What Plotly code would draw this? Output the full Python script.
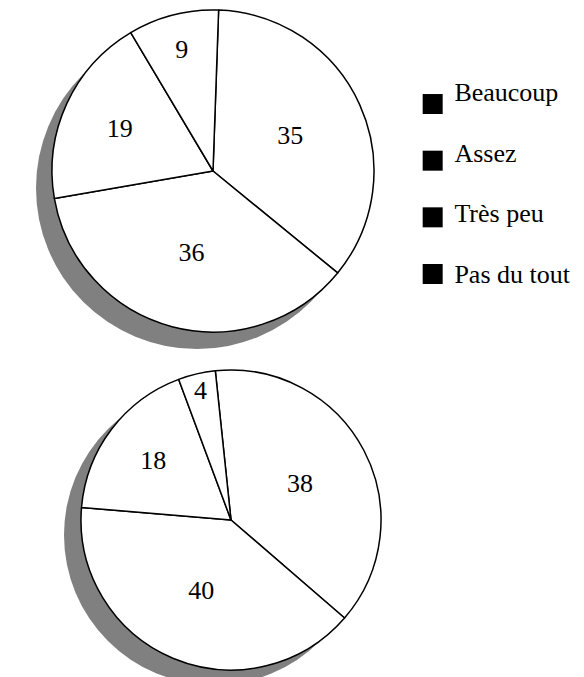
import plotly.graph_objects as go


# =========================================================
# ДАННЫЕ
# =========================================================

categories = ["Beaucoup", "Assez", "Très peu", "Pas du tout"]
values_top = [35, 36, 19, 9]
values_bottom = [38, 40, 18, 4]

W, H = 584, 677
FONT = "Liberation Serif"
SHADOW = "#808080"


def box(cx, cy, d):
    """
    Домен круга по центру и диаметру в пикселях.
    """
    return dict(
        x=[(cx - d / 2) / W, (cx + d / 2) / W],
        y=[1 - (cy + d / 2) / H, 1 - (cy - d / 2) / H]
    )


def shadow_pie(domain):
    return go.Pie(
        values=[1],
        domain=domain,
        marker=dict(colors=[SHADOW], line=dict(width=0)),
        textinfo="none",
        hoverinfo="skip",
        showlegend=False,
        sort=False
    )


def main_pie(values, domain, rotation):
    return go.Pie(
        labels=categories,
        values=values,
        domain=domain,
        rotation=rotation,
        direction="clockwise",
        sort=False,
        marker=dict(
            colors=["white"] * len(values),
            line=dict(color="black", width=1.5)
        ),
        textinfo="value",
        textposition="inside",
        insidetextorientation="horizontal",
        textfont=dict(family=FONT, size=26, color="black"),
        showlegend=False
    )


fig = go.Figure()

# верхний круг
fig.add_trace(shadow_pie(box(189, 180, 322)))
fig.add_trace(main_pie(values_top, box(205, 163, 322), 2))

# нижний круг
fig.add_trace(shadow_pie(box(206, 527, 300)))
fig.add_trace(main_pie(values_bottom, box(223, 512, 300), -6))

# легенда: чёрные квадраты и подписи
fig.add_trace(
    go.Scatter(
        x=[1.2] * len(categories),
        y=categories,
        mode="markers",
        marker=dict(symbol="square", size=20, color="black"),
        cliponaxis=False,
        hoverinfo="skip",
        showlegend=False
    )
)

fig.add_trace(
    go.Scatter(
        x=[2.4] * len(categories),
        y=categories,
        yaxis="y2",
        mode="text",
        text=categories,
        textposition="middle right",
        textfont=dict(family=FONT, size=26, color="black"),
        cliponaxis=False,
        hoverinfo="skip",
        showlegend=False
    )
)

fig.update_layout(
    width=W,
    height=H,
    margin=dict(l=0, r=0, t=0, b=0),
    paper_bgcolor="white",
    plot_bgcolor="rgba(0,0,0,0)",
    uniformtext=dict(minsize=26, mode="show"),
    xaxis=dict(
        domain=[0.69, 1.0],
        range=[0, 10],
        visible=False
    ),
    yaxis=dict(
        domain=[1 - 294.3 / H, 1 - 67.7 / H],
        type="category",
        categoryorder="array",
        categoryarray=categories,
        range=[3.5, -0.5],
        visible=False
    ),
    yaxis2=dict(
        domain=[1 - 298.2 / H, 1 - 56.8 / H],
        type="category",
        categoryorder="array",
        categoryarray=categories,
        range=[3.5, -0.5],
        anchor="x",
        visible=False
    )
)

fig.write_html("out.html")
